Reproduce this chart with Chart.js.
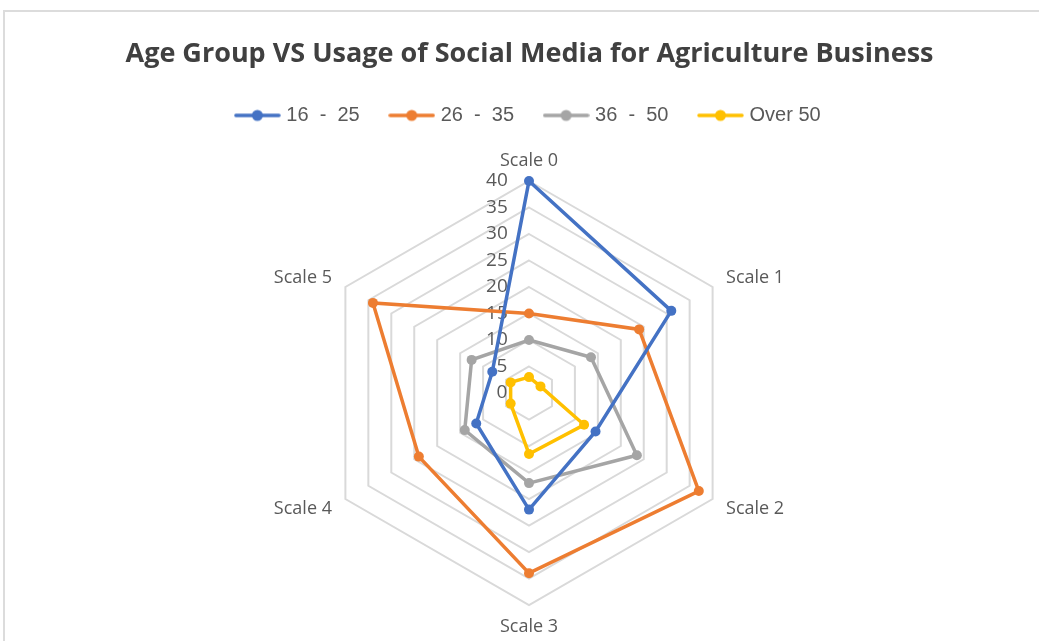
<!DOCTYPE html>
<html>
<head>
<meta charset="utf-8">
<style>
  html, body { margin: 0; padding: 0; background: #ffffff; }
  #wrap { position: relative; width: 1039px; height: 641px; overflow: hidden; }
  #wrap canvas { position: absolute; left: 0; top: 0; }
  #frame { position: absolute; left: 3px; top: 10px; width: 1100px; height: 700px;
           border: 2px solid #dcdcdc; box-sizing: border-box; pointer-events: none; }
</style>
<script src="https://cdn.jsdelivr.net/npm/chart.js@4.4.1/dist/chart.umd.min.js"></script>
</head>
<body>
<div id="wrap">
  <canvas id="chart" width="1039" height="641"></canvas>
  <div id="frame"></div>
</div>
<script>
// Radar axes
const categories = ['Scale 0', 'Scale 1', 'Scale 2', 'Scale 3', 'Scale 4', 'Scale 5'];

// Responses per age group on each scale
const age16to25 = [40, 31, 14.5, 22, 11.5, 8];
const age26to35 = [15, 24, 37, 34, 24, 34];
const age36to50 = [10, 13.5, 23.5, 17, 14, 12.5];
const over50    = [3, 2.5, 12, 11.5, 4, 4];

const seriesNames = ['16  -  25', '26  -  35', '36  -  50', 'Over 50'];
const seriesColors = ['#4472C4', '#ED7D31', '#A5A5A5', '#FFC000'];

// Radial axis range
const axisMax = 40;
const axisStep = 5;

const RADIUS = 212;
const CENTER_Y = 393;

// Legend marker: a short line with a dot in the middle
function legendMarker(color) {
  const c = document.createElement('canvas');
  c.width = 47; c.height = 14;
  const g = c.getContext('2d');
  g.strokeStyle = color;
  g.lineWidth = 3.5;
  g.lineCap = 'round';
  g.beginPath(); g.moveTo(2, 7); g.lineTo(45, 7); g.stroke();
  g.fillStyle = color;
  g.beginPath(); g.arc(23.5, 7, 5.5, 0, Math.PI * 2); g.fill();
  return c;
}
const markers = seriesColors.map(legendMarker);

function series(label, data, color) {
  return {
    label, data,
    borderColor: color,
    backgroundColor: color,
    pointBackgroundColor: color,
    pointBorderColor: color,
    borderWidth: 3.5,
    pointRadius: 5,
    pointBorderWidth: 0,
    fill: false,
    tension: 0
  };
}

new Chart(document.getElementById('chart'), {
  type: 'radar',
  data: {
    labels: categories,
    datasets: [
      series(seriesNames[0], age16to25, seriesColors[0]),
      series(seriesNames[1], age26to35, seriesColors[1]),
      series(seriesNames[2], age36to50, seriesColors[2]),
      series(seriesNames[3], over50, seriesColors[3])
    ]
  },
  options: {
    responsive: false,
    animation: false,
    layout: { padding: { left: 20 } },
    plugins: {
      tooltip: { enabled: false },
      title: {
        display: true,
        text: 'Age Group VS Usage of Social Media for Agriculture Business',
        color: '#404040',
        font: { family: 'Open Sans', weight: 'bold', size: 27 },
        padding: { top: 38, bottom: 2 }
      },
      legend: {
        display: true,
        position: 'top',
        labels: {
          usePointStyle: true,
          pointStyleWidth: 38,
          padding: 33,
          color: '#595959',
          font: { family: 'Liberation Sans', size: 20 },
          generateLabels: (chart) => {
            const items = Chart.defaults.plugins.legend.labels.generateLabels(chart);
            items.forEach((it, i) => { it.pointStyle = markers[i]; });
            return items;
          }
        }
      }
    },
    scales: {
      r: {
        min: -1e-9,
        max: axisMax,
        afterSetDimensions: (s) => {
          s.yCenter = CENTER_Y;
          s.drawingArea = RADIUS;
        },
        angleLines: { display: false },
        grid: {
          color: (ctx) => ctx.index === 0 ? 'rgba(0,0,0,0)' : '#d9d9d9',
          lineWidth: 2
        },
        ticks: {
          stepSize: axisStep,
          showLabelBackdrop: false,
          color: '#595959',
          font: { family: 'Open Sans', size: 19 },
          callback: (v) => {
            const s = String(Math.round(v));
            return s + ' '.repeat(s.length > 1 ? 13 : 11);
          }
        },
        pointLabels: {
          color: '#595959',
          font: { family: 'Open Sans', size: 18, lineHeight: 0.2 },
          padding: (ctx) => ctx.index === 0 ? 7 : (ctx.index === 3 ? 9 : 4)
        }
      }
    }
  }
});
</script>
</body>
</html>
